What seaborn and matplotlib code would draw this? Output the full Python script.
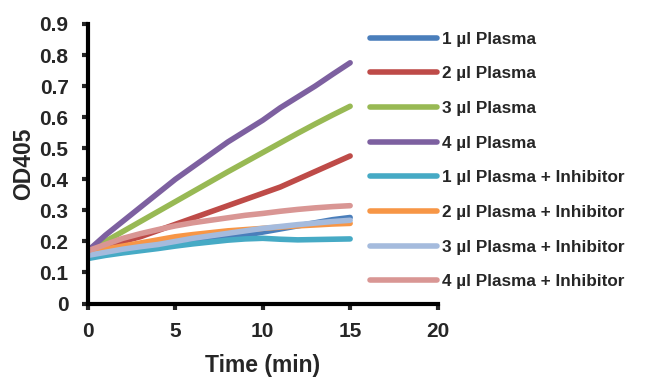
import matplotlib
matplotlib.use("Agg")
import matplotlib.pyplot as plt
import seaborn as sns
import pandas as pd

time_min = list(range(0, 16))
series_labels = ["1 µl Plasma", "2 µl Plasma", "3 µl Plasma", "4 µl Plasma",
                 "1 µl Plasma + Inhibitor", "2 µl Plasma + Inhibitor",
                 "3 µl Plasma + Inhibitor", "4 µl Plasma + Inhibitor"]
p1 = [0.155, 0.165, 0.175, 0.18, 0.19, 0.195, 0.205, 0.21, 0.215, 0.22, 0.23, 0.24, 0.25, 0.26, 0.27, 0.277]
p2 = [0.17, 0.185, 0.2, 0.215, 0.235, 0.255, 0.275, 0.295, 0.315, 0.335, 0.355, 0.375, 0.40, 0.425, 0.45, 0.475]
p3 = [0.17, 0.20, 0.232, 0.264, 0.296, 0.328, 0.36, 0.392, 0.424, 0.455, 0.486, 0.517, 0.548, 0.578, 0.607, 0.635]
p4 = [0.17, 0.22, 0.265, 0.31, 0.355, 0.40, 0.44, 0.48, 0.52, 0.555, 0.59, 0.63, 0.665, 0.70, 0.738, 0.775]
i1 = [0.145, 0.155, 0.163, 0.17, 0.177, 0.185, 0.192, 0.198, 0.204, 0.208, 0.21, 0.207, 0.205, 0.206, 0.207, 0.208]
i2 = [0.16, 0.175, 0.185, 0.195, 0.205, 0.215, 0.222, 0.228, 0.234, 0.238, 0.242, 0.246, 0.25, 0.253, 0.256, 0.258]
i3 = [0.155, 0.165, 0.175, 0.183, 0.19, 0.2, 0.21, 0.218, 0.226, 0.234, 0.242, 0.248, 0.254, 0.259, 0.264, 0.268]
i4 = [0.17, 0.19, 0.21, 0.225, 0.238, 0.25, 0.26, 0.268, 0.276, 0.284, 0.29, 0.297, 0.303, 0.308, 0.312, 0.315]
series_values = [p1, p2, p3, p4, i1, i2, i3, i4]
colors = ["#4A7EBB", "#BE4B48", "#98B954", "#7D60A0", "#46AAC5", "#F79646", "#A5BBDD", "#D99694"]

x_ticks = [0, 5, 10, 15, 20]
y_ticks = [0, 0.1, 0.2, 0.3, 0.4, 0.5, 0.6, 0.7, 0.8, 0.9]
y_tick_labels = ["0", "0.1", "0.2", "0.3", "0.4", "0.5", "0.6", "0.7", "0.8", "0.9"]

rows = []
for lab, vals in zip(series_labels, series_values):
    for t, v in zip(time_min, vals):
        rows.append({"Time": t, "OD405": v, "Series": lab})
df = pd.DataFrame(rows)

sns.set_style("ticks")
plt.rcParams["font.family"] = ["Liberation Sans", "DejaVu Sans"]
plt.rcParams["font.weight"] = "bold"

fig = plt.figure(figsize=(6.54, 3.86), dpi=100)
ax = fig.add_axes([0.1345, 0.2136, 0.5345, 0.7244])

sns.lineplot(data=df, x="Time", y="OD405", hue="Series", hue_order=series_labels,
             palette=colors, linewidth=4.0, ax=ax, legend=False,
             solid_capstyle="round")

ax.set_xlim(0, 20)
ax.set_ylim(0, 0.9)
ax.set_xticks(x_ticks)
ax.set_xticklabels([str(v) for v in x_ticks])
ax.set_yticks(y_ticks)
ax.set_yticklabels(y_tick_labels)
for s in ["top", "right"]:
    ax.spines[s].set_visible(False)
for s in ["left", "bottom"]:
    ax.spines[s].set_linewidth(3)
    ax.spines[s].set_color("black")
ax.tick_params(axis="both", direction="out", length=4, width=3, labelsize=15)
ax.tick_params(axis="x", pad=9)
ax.tick_params(axis="y", pad=10)
for lbl in ax.get_xticklabels() + ax.get_yticklabels():
    lbl.set_fontweight("bold")
ax.set_xlabel("Time (min)", fontsize=16.5, fontweight="bold", labelpad=10)
ax.set_ylabel("OD405", fontsize=16.5, fontweight="bold", labelpad=3)

from matplotlib.lines import Line2D
handles = [Line2D([0], [0], color=c, linewidth=4.0, solid_capstyle="round") for c in colors]
fig.legend(handles, series_labels, loc="upper left", bbox_to_anchor=(0.566, 0.918),
           frameon=False, handlelength=3.9, handletextpad=0.3,
           labelspacing=1.15, borderpad=0, borderaxespad=0,
           prop={"weight": "bold", "size": 12.3})

fig.savefig("out.png", dpi=100)
